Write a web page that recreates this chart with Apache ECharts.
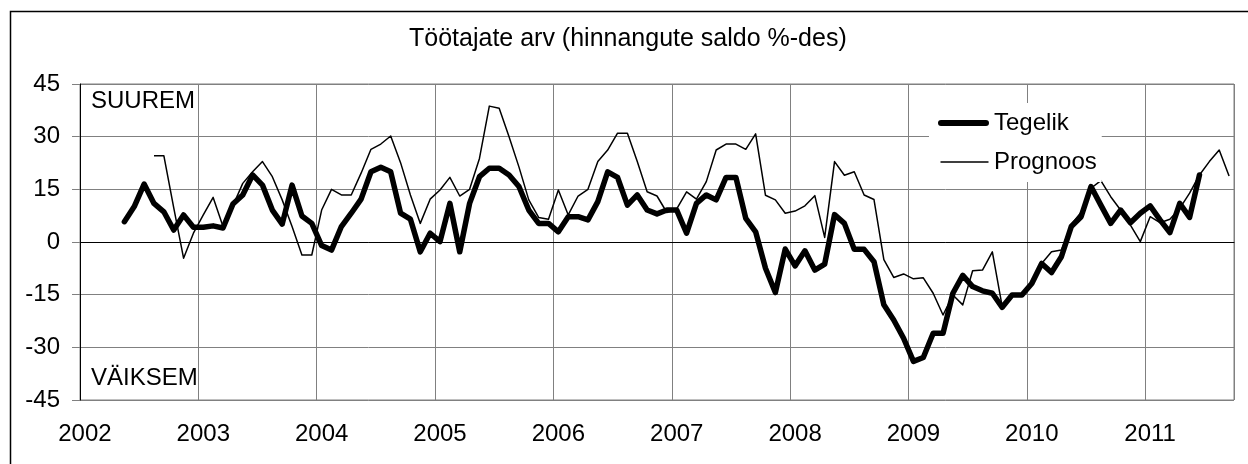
<!DOCTYPE html>
<html>
<head>
<meta charset="utf-8">
<script src="https://cdn.jsdelivr.net/npm/echarts@6/dist/echarts.min.js"></script>
<style>
  html, body { margin: 0; padding: 0; background: #fff; }
  #chart { width: 1248px; height: 464px; }
</style>
</head>
<body>
<div id="chart"></div>
<script>
// monthly, Jan 2002 .. Sep 2011
const years = [2002, 2003, 2004, 2005, 2006, 2007, 2008, 2009, 2010, 2011];
const monthCount = 117;

// Tegelik (actual), starts May 2002
const tegelik = [
    null, null, null, null, 5.8, 10.1, 16.5, 11, 8.6, 3.4, 7.7, 4.2,
    4.2, 4.6, 4.0, 10.8, 13.4, 19.1, 16.2, 9.1, 5.1, 16.2, 7.4, 5.3,
    -1, -2.3, 4.4, 8.2, 12.2, 20, 21.3, 20, 8.2, 6.5, -2.8, 2.5,
    0.1, 11, -2.8, 11, 18.6, 21, 21, 19.1, 15.8, 9.1, 5.3, 5.3,
    2.9, 7.2, 7.2, 6.3, 11.5, 20, 18.4, 10.5, 13.4, 9.1, 8, 9.1,
    9.1, 2.5, 11, 13.4, 12, 18.4, 18.4, 6.7, 2.9, -7.5, -14.4, -2,
    -6.8, -2.5, -8, -6.3, 7.8, 5.3, -2.1, -2.1, -5.6, -17.9, -22.2, -27.4,
    -34, -32.9, -26, -26, -14.6, -9.5, -12.7, -13.9, -14.6, -18.6, -15.1, -15.1,
    -11.8, -6.1, -8.7, -4.2, 4.4, 7.2, 15.8, 10.5, 5.3, 9.1, 5.5, 8.2,
    10.3, 6.3, 2.7, 11, 7, 19.1
];

// Prognoos (forecast), starts Aug 2002
const prognoos = [
    null, null, null, null, null, null, null, 24.6, 24.6, 9.8, -4.6, 2.5,
    7.7, 12.7, 4.4, 10.3, 16.7, 20, 22.9, 18.6, 12, 4.4, -3.7, -3.7,
    9.1, 15, 13.4, 13.4, 19.6, 26.4, 27.9, 30.2, 22.6, 13.4, 5.3, 12.2,
    14.8, 18.4, 13.1, 15, 23.8, 38.7, 38.1, 30, 21.4, 12, 7, 6.5,
    14.8, 7.7, 13.1, 15, 22.9, 26.2, 31, 31, 22.9, 14.3, 13.1, 8.4,
    9.4, 14.3, 12.2, 17.2, 26.2, 27.9, 27.9, 26.4, 30.8, 13.3, 12, 8.2,
    8.8, 10.3, 13.2, 1.3, 22.9, 19, 20, 13.4, 12.1, -5, -10.1, -9.1,
    -10.5, -10.2, -14.6, -20.8, -15.1, -17.9, -8.2, -8, -2.8, -18.4, -15, -15,
    -12.2, -6.1, -2.8, -2.3, 5, 8.5, 15.3, 17.5, 12.9, 9.1, 4.8, 0.1,
    7.2, 5.5, 6.5, 9.6, 13.9, 19.1, 22.9, 26.2, 18.8
];

const yTicks = [-45, -30, -15, 0, 15, 30, 45];

const months = [];
for (let i = 0; i < monthCount; i++) {
    const y = years[0] + Math.floor(i / 12);
    months.push(y + '-' + String(i % 12 + 1).padStart(2, '0'));
}

const font = 'Liberation Sans, Arial, sans-serif';

// legend samples: thick bar with round ends / thin bar (first two subpaths only fix the 51x14 box)
const thickIcon = 'path://M0,0 L0.01,0 Z M0,14 L0.01,14 Z M3,4 H48 A3,3 0 0 1 48,10 H3 A3,3 0 0 1 3,4 Z';
const thinIcon = 'path://M0,0 L0.01,0 Z M0,14 L0.01,14 Z M2,6.25 H50 V7.75 H2 Z';

const chart = echarts.init(document.getElementById('chart'));

chart.setOption({
    animation: false,
    backgroundColor: '#fff',
    textStyle: { fontFamily: font, color: '#000' },
    title: {
        text: 'Töötajate arv (hinnangute saldo %-des)',
        left: 409,
        top: 27,
        padding: 0,
        textStyle: { fontFamily: font, fontSize: 25, fontWeight: 'normal', color: '#000' }
    },
    grid: {
        left: 80,
        right: 14,
        top: 84,
        bottom: 64,
        show: true,
        borderColor: '#808080',
        borderWidth: 1
    },
    legend: {
        orient: 'vertical',
        left: 929,
        top: 103,
        padding: [8, 5, 8, 9],
        itemGap: 15,
        itemWidth: 51,
        itemHeight: 14,
        backgroundColor: '#fff',
        itemStyle: { borderWidth: 0, color: '#000' },
        textStyle: { fontFamily: font, fontSize: 24, color: '#000' },
        data: [
            { name: 'Tegelik', icon: thickIcon },
            { name: 'Prognoos', icon: thinIcon }
        ]
    },
    xAxis: {
        type: 'category',
        data: months,
        boundaryGap: true,
        axisLine: { lineStyle: { color: '#000', width: 1 } },
        axisTick: { show: false },
        axisLabel: {
            interval: (index) => index % 12 === 0,
            formatter: (v) => v.slice(0, 4),
            margin: 22,
            fontSize: 24,
            color: '#000',
            fontFamily: font
        },
        splitLine: {
            show: true,
            interval: (index) => index % 12 === 0,
            lineStyle: { color: '#808080', width: 1 }
        }
    },
    yAxis: {
        type: 'value',
        min: yTicks[0],
        max: yTicks[yTicks.length - 1],
        interval: 15,
        axisLine: { show: true, lineStyle: { color: '#000', width: 1 } },
        axisTick: { show: true, length: 8, lineStyle: { color: '#808080' } },
        axisLabel: { margin: 20, fontSize: 24, color: '#000', fontFamily: font },
        splitLine: { show: true, lineStyle: { color: '#808080', width: 1 } }
    },
    series: [
        {
            name: 'Prognoos',
            type: 'line',
            data: prognoos,
            symbol: 'none',
            connectNulls: false,
            lineStyle: { color: '#000', width: 1.5, join: 'round' },
            itemStyle: { color: '#000', borderWidth: 0 },
            z: 2
        },
        {
            name: 'Tegelik',
            type: 'line',
            data: tegelik,
            symbol: 'none',
            connectNulls: false,
            lineStyle: { color: '#000', width: 5.5, join: 'round', cap: 'round' },
            itemStyle: { color: '#000', borderWidth: 0 },
            z: 3
        }
    ],
    graphic: [
        {
            type: 'rect',
            shape: { x: 10.5, y: 11.5, width: 1260, height: 480 },
            style: { fill: 'none', stroke: '#000', lineWidth: 1.5 },
            silent: true
        },
        {
            type: 'text',
            left: 91,
            top: 89,
            style: { text: 'SUUREM', font: '24px ' + font, fill: '#000' }
        },
        {
            type: 'text',
            left: 91,
            top: 366,
            style: { text: 'VÄIKSEM', font: '24px ' + font, fill: '#000' }
        }
    ]
});
</script>
</body>
</html>
